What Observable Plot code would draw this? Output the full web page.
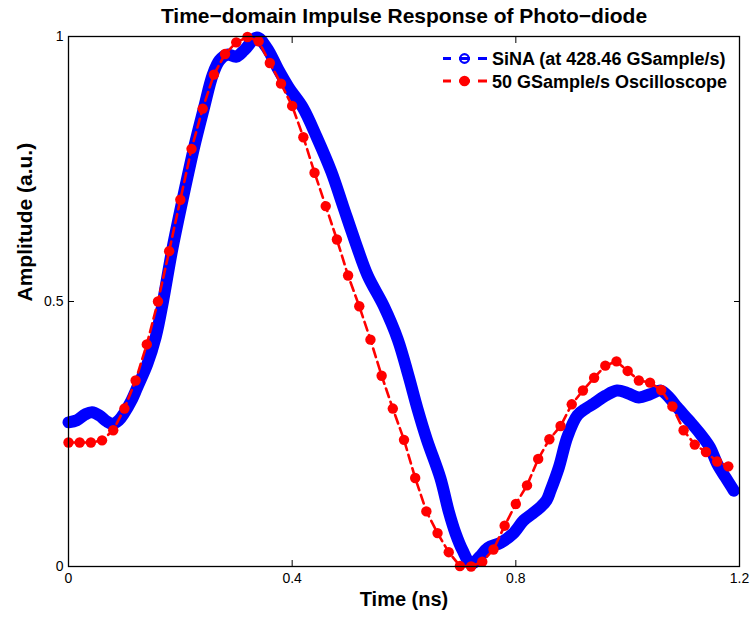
<!DOCTYPE html>
<html><head><meta charset="utf-8">
<script src="https://cdn.jsdelivr.net/npm/d3@7"></script>
<script src="https://cdn.jsdelivr.net/npm/@observablehq/plot@0.6"></script>
<style>
body{margin:0;background:#fff;}
#wrap{position:relative;width:752px;height:619px;font-family:"Liberation Sans",Arial,Helvetica,sans-serif;}
#legend{position:absolute;left:0;top:0;pointer-events:none;}
</style></head><body>
<div id="wrap"></div>
<script>
const titleText = "Time\u2212domain Impulse Response of Photo\u2212diode";
const xLabel = "Time (ns)";
const yLabel = "Amplitude (a.u.)";
const seriesNames = ["SiNA (at 428.46 GSample/s)", "50 GSample/s Oscilloscope"];
const seriesColors = ["#0000ff", "#ff0000"];
const xTicks = [0, 0.4, 0.8, 1.2];
const yTicks = [0, 0.5, 1];

// SiNA trace (read along the centre of the blue band)
const sinaTime = [0.000,0.015,0.030,0.042,0.055,0.068,0.078,0.090,0.100,0.112,0.123,0.141,0.156,0.169,0.185,0.204,0.224,0.242,0.258,0.270,0.284,0.300,0.315,0.337,0.355,0.375,0.395,0.419,0.444,0.470,0.491,0.513,0.535,0.564,0.589,0.608,0.624,0.641,0.665,0.680,0.692,0.705,0.720,0.735,0.750,0.773,0.795,0.814,0.830,0.844,0.855,0.862,0.877,0.892,0.910,0.925,0.939,0.960,0.981,1.000,1.020,1.040,1.059,1.075,1.088,1.110,1.130,1.147,1.160,1.175,1.190];
const sinaAmp  = [0.272,0.276,0.287,0.291,0.285,0.274,0.269,0.276,0.290,0.312,0.338,0.382,0.433,0.500,0.595,0.692,0.788,0.864,0.928,0.955,0.966,0.962,0.975,0.998,0.978,0.938,0.902,0.866,0.810,0.745,0.680,0.612,0.549,0.491,0.428,0.360,0.298,0.239,0.167,0.104,0.063,0.030,0.005,0.018,0.035,0.045,0.062,0.087,0.100,0.112,0.125,0.143,0.187,0.244,0.285,0.298,0.307,0.322,0.332,0.327,0.319,0.325,0.332,0.318,0.301,0.275,0.250,0.225,0.194,0.168,0.143];

// 50 GSample/s oscilloscope samples
const scopeTime = [0.00,0.02,0.04,0.06,0.08,0.10,0.12,0.14,0.16,0.18,0.20,0.22,0.24,0.26,0.28,0.30,0.32,0.34,0.36,0.38,0.40,0.42,0.44,0.46,0.48,0.50,0.52,0.54,0.56,0.58,0.60,0.62,0.64,0.66,0.68,0.70,0.72,0.74,0.76,0.78,0.80,0.82,0.84,0.86,0.88,0.90,0.92,0.94,0.96,0.98,1.00,1.02,1.04,1.06,1.08,1.10,1.12,1.14,1.16,1.18];
const scopeAmp  = [0.234,0.234,0.234,0.238,0.257,0.298,0.351,0.419,0.500,0.595,0.692,0.788,0.864,0.928,0.967,0.989,0.999,0.991,0.950,0.911,0.869,0.810,0.743,0.680,0.617,0.549,0.491,0.428,0.360,0.298,0.239,0.167,0.104,0.063,0.027,0.001,0.000,0.009,0.032,0.077,0.118,0.153,0.203,0.240,0.265,0.306,0.332,0.356,0.379,0.387,0.369,0.351,0.347,0.333,0.302,0.257,0.230,0.216,0.198,0.189];

const sina = sinaTime.map((t, i) => ({t, v: sinaAmp[i]}));
const scope = scopeTime.map((t, i) => ({t, v: scopeAmp[i]}));

const font = '"Liberation Sans", Arial, Helvetica, sans-serif';

const chart = Plot.plot({
  width: 752, height: 619,
  marginLeft: 68, marginRight: 13, marginTop: 36, marginBottom: 53,
  style: {fontFamily: font, fontSize: "14px", color: "black", background: "white"},
  x: {domain: [0, 1.2]},
  y: {domain: [0, 1]},
  marks: [
    Plot.line(sina, {x: "t", y: "v", stroke: seriesColors[0], strokeWidth: 12, curve: "catmull-rom", strokeLinecap: "round", strokeLinejoin: "round"}),
    Plot.line(scope, {x: "t", y: "v", stroke: seriesColors[1], strokeWidth: 2.6, strokeDasharray: "9,5"}),
    Plot.dot(scope, {x: "t", y: "v", r: 5.2, fill: seriesColors[1]}),
    Plot.frame({stroke: "black", strokeWidth: 1.3}),
    Plot.axisX(xTicks, {anchor: "bottom", tickSize: -6, tickPadding: 13, tickFormat: d => String(d), label: null, fontSize: 14}),
    Plot.axisX(xTicks, {anchor: "top", tickSize: -6, tickFormat: () => "", label: null}),
    Plot.axisY(yTicks, {anchor: "left", tickSize: -6, tickPadding: 11, tickFormat: d => String(d), label: null, fontSize: 14}),
    Plot.axisY(yTicks, {anchor: "right", tickSize: -6, tickFormat: () => "", label: null}),
    Plot.text([titleText], {frameAnchor: "top", dy: -20.5, fontSize: 21, fontWeight: "bold", lineAnchor: "middle"}),
    Plot.text([xLabel], {frameAnchor: "bottom", dy: 33, fontSize: 20, fontWeight: "bold", lineAnchor: "middle"}),
    Plot.text([yLabel], {frameAnchor: "left", dx: -43, rotate: -90, fontSize: 21, fontWeight: "bold", lineAnchor: "middle"})
  ]
});
const wrap = document.getElementById("wrap");
wrap.appendChild(chart);

// Legend overlay (top-right, inside the axes)
const ns = "http://www.w3.org/2000/svg";
const lg = document.createElementNS(ns, "svg");
lg.setAttribute("id", "legend");
lg.setAttribute("width", 752);
lg.setAttribute("height", 619);
const rows = [58.5, 81];
seriesNames.forEach((name, i) => {
  const y = rows[i], c = seriesColors[i];
  [[443, 451], [459, 470], [478, 487]].forEach(([a, b]) => {
    const l = document.createElementNS(ns, "line");
    l.setAttribute("x1", a); l.setAttribute("x2", b);
    l.setAttribute("y1", y); l.setAttribute("y2", y);
    l.setAttribute("stroke", c); l.setAttribute("stroke-width", 3);
    lg.appendChild(l);
  });
  const ci = document.createElementNS(ns, "circle");
  ci.setAttribute("cx", 464.5); ci.setAttribute("cy", y);
  if (i === 0) { ci.setAttribute("r", 4.3); ci.setAttribute("fill", "none"); ci.setAttribute("stroke", c); ci.setAttribute("stroke-width", 2.2); }
  else { ci.setAttribute("r", 5.3); ci.setAttribute("fill", c); }
  lg.appendChild(ci);
  const tx = document.createElementNS(ns, "text");
  tx.setAttribute("x", 492); tx.setAttribute("y", y + 6.5);
  tx.setAttribute("font-family", font);
  tx.setAttribute("font-size", 18); tx.setAttribute("font-weight", "bold");
  tx.setAttribute("fill", "black");
  tx.textContent = name;
  lg.appendChild(tx);
});
wrap.appendChild(lg);
</script>
</body></html>
